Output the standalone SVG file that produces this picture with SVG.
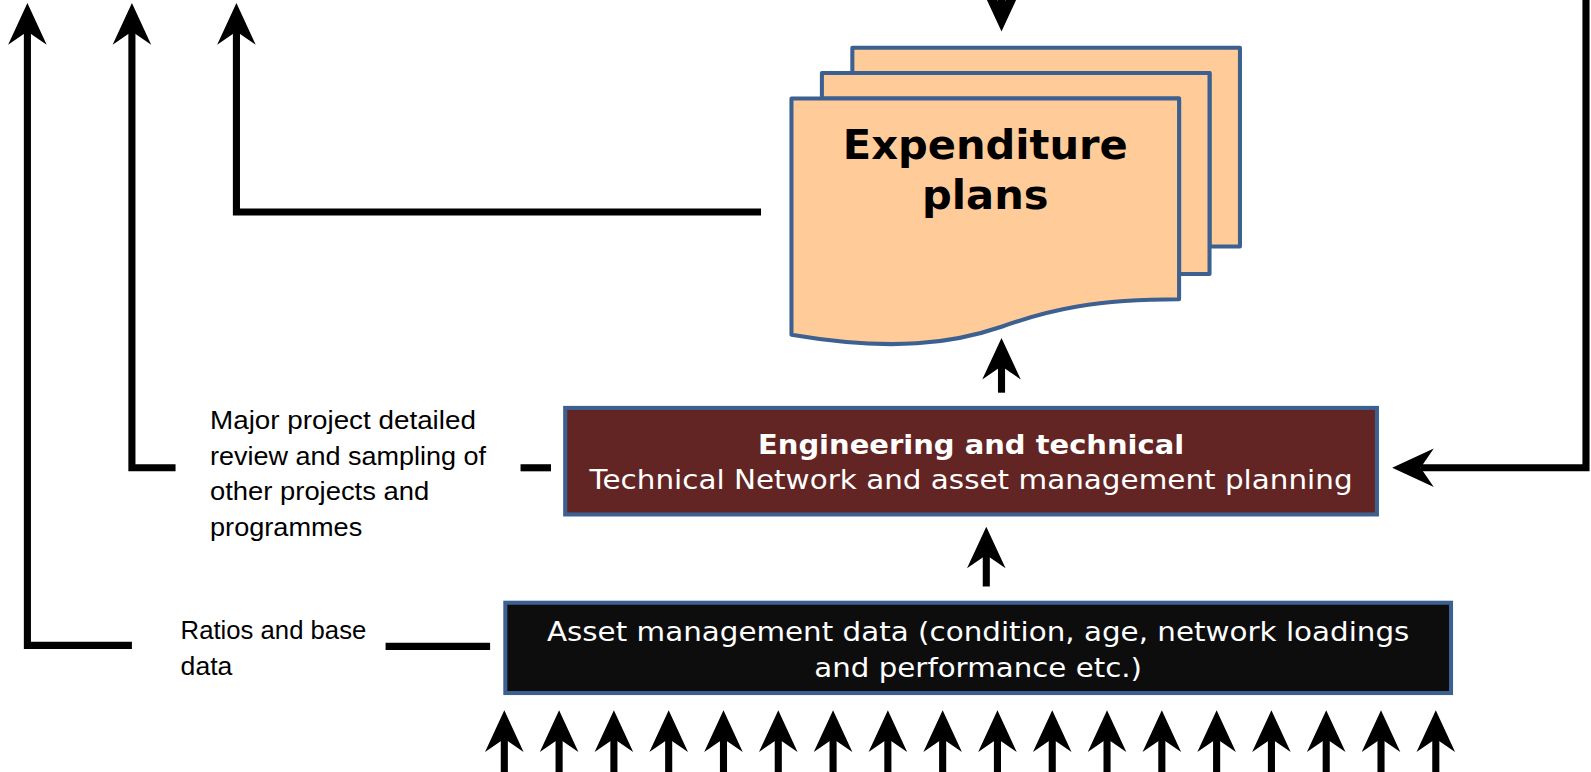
<svg xmlns="http://www.w3.org/2000/svg" xmlns:xlink="http://www.w3.org/1999/xlink" width="1591" height="772" viewBox="0 0 1591 772">
<style>
.ln{fill:none;stroke:#000;stroke-width:7;stroke-linecap:butt;stroke-linejoin:miter}
.page{fill:#FFCC99;stroke:#3C6090;stroke-width:4;stroke-linejoin:round}
.box{stroke:#3C6090;stroke-width:4}
.lbl{font-family:"Liberation Sans","Open Sans",Arial,sans-serif;font-size:25px;fill:#000}
.wt{font-family:"DejaVu Sans",Verdana,sans-serif;fill:#fff;text-anchor:middle}
.tt{font-family:"DejaVu Sans",Verdana,sans-serif;font-weight:bold;font-size:41px;text-anchor:middle;fill:#000}
</style>
<defs>
<path id="ah" d="M0,0 L19,41 L0,28 L-19,41 Z" fill="#000"/>
</defs>
<rect width="1591" height="772" fill="#fff"/>
<g transform="scale(1.0147)">
<g id="connectors">
<polyline class="ln" points="130,636 27,636 27,30"/>
<use href="#ah" transform="translate(27,3)"/>
<line class="ln" x1="380" y1="637" x2="483" y2="637"/>
<polyline class="ln" points="173,461 130,461 130,30"/>
<use href="#ah" transform="translate(130,3)"/>
<line class="ln" x1="513" y1="461" x2="543" y2="461"/>
<polyline class="ln" points="750,209 233,209 233,30"/>
<use href="#ah" transform="translate(233,3)"/>
<line class="ln" x1="987" y1="-2" x2="987" y2="10"/>
<use href="#ah" transform="translate(987,31) rotate(180)"/>
<polyline class="ln" points="1563,-2 1563,461 1400,461"/>
<use href="#ah" transform="translate(1372,461) rotate(-90)"/>
<line class="ln" x1="987" y1="360" x2="987" y2="387"/>
<use href="#ah" transform="translate(987,333)"/>
<line class="ln" x1="972" y1="545" x2="972" y2="578"/>
<use href="#ah" transform="translate(972,519)"/>
<g id="inputs">
<line class="ln" x1="497" y1="728" x2="497" y2="772"/><use href="#ah" transform="translate(497,700)"/>
<line class="ln" x1="551" y1="728" x2="551" y2="772"/><use href="#ah" transform="translate(551,700)"/>
<line class="ln" x1="605" y1="728" x2="605" y2="772"/><use href="#ah" transform="translate(605,700)"/>
<line class="ln" x1="659" y1="728" x2="659" y2="772"/><use href="#ah" transform="translate(659,700)"/>
<line class="ln" x1="713" y1="728" x2="713" y2="772"/><use href="#ah" transform="translate(713,700)"/>
<line class="ln" x1="767" y1="728" x2="767" y2="772"/><use href="#ah" transform="translate(767,700)"/>
<line class="ln" x1="821" y1="728" x2="821" y2="772"/><use href="#ah" transform="translate(821,700)"/>
<line class="ln" x1="875" y1="728" x2="875" y2="772"/><use href="#ah" transform="translate(875,700)"/>
<line class="ln" x1="929" y1="728" x2="929" y2="772"/><use href="#ah" transform="translate(929,700)"/>
<line class="ln" x1="983" y1="728" x2="983" y2="772"/><use href="#ah" transform="translate(983,700)"/>
<line class="ln" x1="1037" y1="728" x2="1037" y2="772"/><use href="#ah" transform="translate(1037,700)"/>
<line class="ln" x1="1091" y1="728" x2="1091" y2="772"/><use href="#ah" transform="translate(1091,700)"/>
<line class="ln" x1="1145" y1="728" x2="1145" y2="772"/><use href="#ah" transform="translate(1145,700)"/>
<line class="ln" x1="1199" y1="728" x2="1199" y2="772"/><use href="#ah" transform="translate(1199,700)"/>
<line class="ln" x1="1253" y1="728" x2="1253" y2="772"/><use href="#ah" transform="translate(1253,700)"/>
<line class="ln" x1="1307" y1="728" x2="1307" y2="772"/><use href="#ah" transform="translate(1307,700)"/>
<line class="ln" x1="1361" y1="728" x2="1361" y2="772"/><use href="#ah" transform="translate(1361,700)"/>
<line class="ln" x1="1415" y1="728" x2="1415" y2="772"/><use href="#ah" transform="translate(1415,700)"/>
</g>
</g>
<g id="expenditure-plans">
<path class="page" d="M840,47 H1222 V243 H1192 V72 H840 Z"/>
<path class="page" d="M810,72 H1192 V270 H1162 V97 H810 Z"/>
<path class="page" d="M780,97 H1162 V295 C1080,295 1035,305 987,322 C940,338 880,347 780,330 Z"/>
<text class="tt" x="971" y="157">Expenditure</text>
<text class="tt" x="971" y="206">plans</text>
</g>
<g id="engineering">
<rect class="box" x="557" y="402" width="800" height="105" fill="#632523"/>
<text class="wt" x="957" y="447" font-size="26" font-weight="bold" textLength="420" lengthAdjust="spacingAndGlyphs">Engineering and technical</text>
<text class="wt" x="957" y="482" font-size="26" textLength="752" lengthAdjust="spacingAndGlyphs">Technical Network and asset management planning</text>
</g>
<g id="asset-data">
<rect class="box" x="498" y="594" width="932" height="89" fill="#0D0D0D"/>
<text class="wt" x="964" y="632" font-size="26" textLength="850" lengthAdjust="spacingAndGlyphs">Asset management data (condition, age, network loadings</text>
<text class="wt" x="964" y="667" font-size="26" textLength="323" lengthAdjust="spacingAndGlyphs">and performance etc.)</text>
</g>
<g id="label-major">
<text class="lbl" x="207" y="423" textLength="262" lengthAdjust="spacingAndGlyphs">Major project detailed</text>
<text class="lbl" x="207" y="458" textLength="272" lengthAdjust="spacingAndGlyphs">review and sampling of</text>
<text class="lbl" x="207" y="493" textLength="216" lengthAdjust="spacingAndGlyphs">other projects and</text>
<text class="lbl" x="207" y="528" textLength="150" lengthAdjust="spacingAndGlyphs">programmes</text>
</g>
<g id="label-ratios">
<text class="lbl" x="178" y="630" textLength="183" lengthAdjust="spacingAndGlyphs">Ratios and base</text>
<text class="lbl" x="178" y="665" textLength="51" lengthAdjust="spacingAndGlyphs">data</text>
</g>
</g>
</svg>
